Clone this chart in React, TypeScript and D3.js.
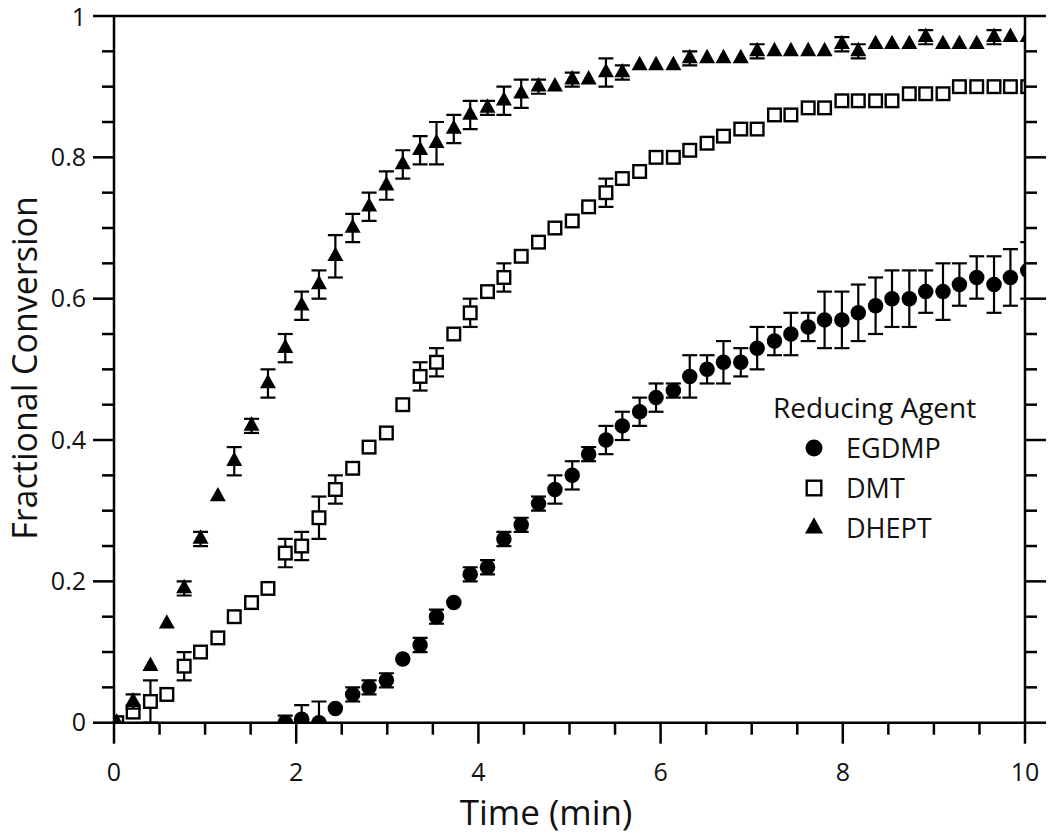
import React from "react";
import * as d3 from "d3";

// Sampling times (min), shared by all three series
const times = [0.03, 0.21, 0.40, 0.58, 0.77, 0.95, 1.14, 1.32, 1.51, 1.69, 1.88, 2.06, 2.25, 2.43, 2.62, 2.80, 2.99, 3.17, 3.36, 3.54, 3.73, 3.91, 4.10, 4.28, 4.47, 4.66, 4.84, 5.03, 5.21, 5.40, 5.58, 5.77, 5.95, 6.14, 6.32, 6.51, 6.69, 6.88, 7.06, 7.25, 7.43, 7.62, 7.80, 7.99, 8.17, 8.36, 8.54, 8.73, 8.91, 9.10, 9.28, 9.47, 9.66, 9.84, 10.03];

const egdmpValues = [null, null, null, null, null, null, null, null, null, null, 0.00, 0.005, 0.00, 0.02, 0.04, 0.05, 0.06, 0.09, 0.11, 0.15, 0.17, 0.21, 0.22, 0.26, 0.28, 0.31, 0.33, 0.35, 0.38, 0.40, 0.42, 0.44, 0.46, 0.47, 0.49, 0.50, 0.51, 0.51, 0.53, 0.54, 0.55, 0.56, 0.57, 0.57, 0.58, 0.59, 0.60, 0.60, 0.61, 0.61, 0.62, 0.63, 0.62, 0.63, 0.64];
const egdmpErrors = [0, 0, 0, 0, 0, 0, 0, 0, 0, 0, 0.01, 0.02, 0.03, 0, 0.01, 0.01, 0.01, 0, 0.01, 0.01, 0, 0.01, 0.01, 0.01, 0.01, 0.01, 0.02, 0.02, 0.01, 0.02, 0.02, 0.02, 0.02, 0.01, 0.03, 0.02, 0.03, 0.02, 0.03, 0.02, 0.03, 0.02, 0.04, 0.04, 0.04, 0.04, 0.04, 0.04, 0.03, 0.04, 0.03, 0.03, 0.04, 0.04, 0.04];

const dmtValues = [0.00, 0.015, 0.03, 0.04, 0.08, 0.10, 0.12, 0.15, 0.17, 0.19, 0.24, 0.25, 0.29, 0.33, 0.36, 0.39, 0.41, 0.45, 0.49, 0.51, 0.55, 0.58, 0.61, 0.63, 0.66, 0.68, 0.70, 0.71, 0.73, 0.75, 0.77, 0.78, 0.80, 0.80, 0.81, 0.82, 0.83, 0.84, 0.84, 0.86, 0.86, 0.87, 0.87, 0.88, 0.88, 0.88, 0.88, 0.89, 0.89, 0.89, 0.90, 0.90, 0.90, 0.90, 0.90];
const dmtErrors = [0, 0, 0.03, 0, 0.02, 0, 0, 0, 0, 0, 0.02, 0.02, 0.03, 0.02, 0, 0, 0, 0, 0.02, 0.02, 0, 0.02, 0, 0.02, 0, 0, 0, 0, 0, 0.02, 0, 0, 0, 0, 0, 0, 0, 0, 0, 0, 0, 0, 0, 0, 0, 0, 0, 0, 0, 0, 0, 0, 0, 0, 0];

const dheptValues = [0.00, 0.03, 0.08, 0.14, 0.19, 0.26, 0.32, 0.37, 0.42, 0.48, 0.53, 0.59, 0.62, 0.66, 0.70, 0.73, 0.76, 0.79, 0.81, 0.82, 0.84, 0.86, 0.87, 0.88, 0.89, 0.90, 0.90, 0.91, 0.91, 0.92, 0.92, 0.93, 0.93, 0.93, 0.94, 0.94, 0.94, 0.94, 0.95, 0.95, 0.95, 0.95, 0.95, 0.96, 0.95, 0.96, 0.96, 0.96, 0.97, 0.96, 0.96, 0.96, 0.97, 0.97, 0.97];
const dheptErrors = [0, 0.01, 0, 0, 0.01, 0.01, 0, 0.02, 0.01, 0.02, 0.02, 0.02, 0.02, 0.03, 0.02, 0.02, 0.02, 0.02, 0.02, 0.03, 0.02, 0.02, 0.01, 0.02, 0.02, 0.01, 0, 0.01, 0, 0.02, 0.01, 0, 0, 0, 0.01, 0, 0, 0, 0.01, 0, 0, 0, 0, 0.01, 0.01, 0, 0, 0, 0.01, 0, 0, 0, 0.01, 0, 0];

const xTickLabels = [0, 2, 4, 6, 8, 10];
const yTickLabels = [0, 0.2, 0.4, 0.6, 0.8, 1];
const legendTitle = "Reducing Agent";
const seriesNames = ["EGDMP", "DMT", "DHEPT"];

const FONT = "'Open Sans', 'Noto Sans', sans-serif";

type Shape = "circle" | "square" | "triangle";

function Marker({ shape, cx, cy, s }: { shape: Shape; cx: number; cy: number; s: number }) {
  if (shape === "circle") return <circle cx={cx} cy={cy} r={s / 2} fill="#000" />;
  if (shape === "square")
    return (
      <rect x={cx - s / 2 + 1.2} y={cy - s / 2 + 1.2} width={s - 2.4} height={s - 2.4} fill="#fff" stroke="#000" strokeWidth={2.4} />
    );
  const h = s * 0.9;
  const tri = d3.path();
  tri.moveTo(cx, cy - (2 * h) / 3);
  tri.lineTo(cx + s / 2, cy + h / 3);
  tri.lineTo(cx - s / 2, cy + h / 3);
  tri.closePath();
  return <path d={tri.toString()} fill="#000" />;
}

export default function App() {
  const W = 1050, H = 835;
  const x = d3.scaleLinear().domain([0, 10]).range([114, 1025]);
  const y = d3.scaleLinear().domain([0, 1]).range([722.7, 16]);
  const [x0, x1] = x.range();
  const [y0, y1] = y.range();
  const majorLen = 21, minorLen = 12, lw = 2.5;

  const xMinor = d3.range(0, 10.001, 0.5);
  const yMinor = d3.range(0, 1.0001, 0.05);
  const isMajorX = (v: number) => xTickLabels.some((t) => Math.abs(t - v) < 1e-6);
  const isMajorY = (v: number) => yTickLabels.some((t) => Math.abs(t - v) < 1e-6);

  const series: { name: string; shape: Shape; vals: (number | null)[]; errs: number[]; size: number }[] = [
    { name: seriesNames[0], shape: "circle", vals: egdmpValues, errs: egdmpErrors, size: 15.5 },
    { name: seriesNames[1], shape: "square", vals: dmtValues, errs: dmtErrors, size: 15 },
    { name: seriesNames[2], shape: "triangle", vals: dheptValues, errs: dheptErrors, size: 16 },
  ];

  const capHalf = 7.5;

  return (
    <svg width={W} height={H} style={{ position: "absolute", left: 0, top: 0, display: "block", background: "#fff" }} fontFamily={FONT}>
      <defs>
        <clipPath id="plot">
          <rect x={x0} y={y1} width={x1 - x0} height={y0 - y1} />
        </clipPath>
      </defs>
      <rect width={W} height={H} fill="#fff" />

      {/* data */}
      <g clipPath="url(#plot)">
        {series.map((s) => (
          <g key={s.name}>
            {s.vals.map((v, i) => {
              if (v === null || !s.errs[i]) return null;
              const cx = x(times[i]);
              const yt = y(v + s.errs[i]);
              const yb = y(v - s.errs[i]);
              return (
                <g key={i} stroke="#000" strokeWidth={2.2}>
                  <line x1={cx} x2={cx} y1={yt} y2={yb} />
                  <line x1={cx - capHalf} x2={cx + capHalf} y1={yt} y2={yt} />
                  <line x1={cx - capHalf} x2={cx + capHalf} y1={yb} y2={yb} />
                </g>
              );
            })}
            {s.vals.map((v, i) =>
              v === null ? null : <Marker key={i} shape={s.shape} cx={x(times[i])} cy={y(v)} s={s.size} />
            )}
          </g>
        ))}
      </g>

      {/* frame */}
      <g stroke="#000" strokeWidth={lw} fill="none">
        <line x1={x0} x2={x1} y1={y0} y2={y0} />
        <line x1={x0} x2={x1} y1={y1} y2={y1} />
        <line x1={x0} x2={x0} y1={y0} y2={y1} />
        <line x1={x1} x2={x1} y1={y0} y2={y1} />
        {xMinor.map((v) => (
          <line key={"xt" + v} x1={x(v)} x2={x(v)} y1={y0} y2={y0 + (isMajorX(v) ? majorLen : minorLen)} />
        ))}
        {yMinor.map((v) => (
          <g key={"yt" + v}>
            <line x1={x0} x2={x0 - (isMajorY(v) ? majorLen : minorLen)} y1={y(v)} y2={y(v)} />
            <line x1={x1} x2={x1 + (isMajorY(v) ? majorLen : minorLen)} y1={y(v)} y2={y(v)} />
          </g>
        ))}
      </g>

      {/* tick labels */}
      <g fontSize={25} fill="#111">
        {xTickLabels.map((t) => (
          <text key={"xl" + t} x={x(t)} y={y0 + 58} textAnchor="middle">
            {d3.format("")(t)}
          </text>
        ))}
        {yTickLabels.map((t) => (
          <text key={"yl" + t} x={86} y={Math.max(y(t), 17)} dy="0.35em" textAnchor="end">
            {d3.format("")(t)}
          </text>
        ))}
      </g>

      {/* axis titles */}
      <text x={546} y={825} textAnchor="middle" fontSize={35} fill="#111">
        Time (min)
      </text>
      <text transform={`translate(37, 368) rotate(-90)`} textAnchor="middle" fontSize={34} fill="#111">
        Fractional Conversion
      </text>

      {/* legend */}
      <g fill="#111">
        <text x={773} y={418} fontSize={28}>{legendTitle}</text>
        {series.map((s, i) => {
          const cy = 448 + i * 40;
          return (
            <g key={"lg" + s.name}>
              <Marker shape={s.shape} cx={814} cy={cy} s={s.shape === "triangle" ? 18 : 17} />
              <text x={846} y={cy + 10} fontSize={27}>{s.name}</text>
            </g>
          );
        })}
      </g>
    </svg>
  );
}
